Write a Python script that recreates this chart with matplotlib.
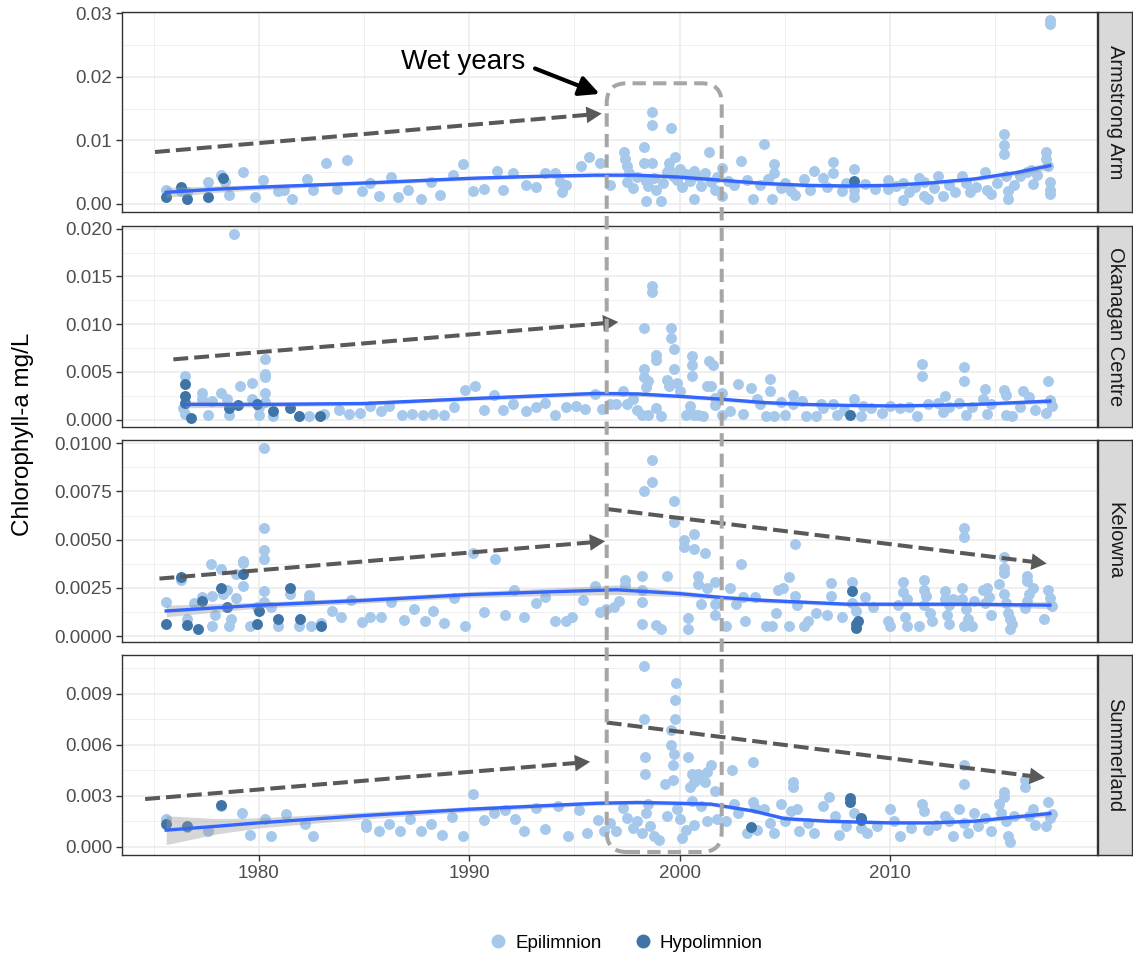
import numpy as np
import matplotlib
matplotlib.use("Agg")
import matplotlib.pyplot as plt
from matplotlib.lines import Line2D
from matplotlib.patches import FancyBboxPatch
from matplotlib.ticker import FixedLocator

plt.rcParams['font.family'] = ['Liberation Sans', 'DejaVu Sans']

# ---------------- data (chlorophyll-a in ug/L, plotted as mg/L) ----------------
sites = ["Armstrong Arm", "Okanagan Centre", "Kelowna", "Summerland"]

arm_epi_year = [1975.6, 1976.3, 1976.6, 1977.6, 1978.2, 1978.4, 1978.6, 1979.25, 1979.8, 1980.2,
                1980.9, 1981.2, 1981.6, 1982.3, 1982.6, 1983.2, 1983.7, 1984.2, 1984.9, 1985.3,
                1985.7, 1986.3, 1986.6, 1987.1, 1987.7, 1988.2, 1988.6, 1989.25, 1989.7, 1990.2,
                1990.7, 1991.3, 1991.6, 1992.1, 1992.7, 1993.2, 1993.6, 1994.1, 1994.3, 1994.6,
                1994.4, 1995.3, 1995.7, 1996.2, 1996.7, 1997.35, 1997.4, 1997.5, 1997.6, 1997.5,
                1997.8, 1998.0, 1998.3, 1998.3, 1998.4, 1998.4, 1998.5, 1998.7, 1998.7, 1998.7,
                1998.8, 1998.9, 1999.1, 1999.2, 1999.4, 1999.5, 1999.5, 1999.6, 1999.7, 1999.8,
                1999.9, 2000.0, 2000.1, 2000.3, 2000.5, 2000.7, 2000.7, 2000.9, 2001.0, 2001.2,
                2001.4, 2001.5, 2001.7, 2001.8, 2002.0, 2002.0, 2002.3, 2002.6, 2002.9, 2003.2,
                2003.5, 2003.8, 2004.0, 2004.2, 2004.4, 2004.5, 2004.5, 2004.8, 2005.0, 2005.3,
                2005.5, 2005.9, 2006.2, 2006.4, 2006.8, 2007.0, 2007.3, 2007.3, 2007.7, 2007.9,
                2008.3, 2008.3, 2008.3, 2008.8, 2009.3, 2009.9, 2009.9, 2010.3, 2010.6, 2010.6,
                2010.9, 2011.2, 2011.4, 2011.6, 2011.6, 2011.8, 2012.1, 2012.3, 2012.5, 2012.8,
                2013.1, 2013.4, 2013.6, 2013.8, 2014.1, 2014.5, 2014.6, 2014.8, 2015.1, 2015.4,
                2015.4, 2015.4, 2015.5, 2015.6, 2015.6, 2015.9, 2016.2, 2016.5, 2016.7, 2016.8,
                2017.0, 2017.4, 2017.4, 2017.5, 2017.6, 2017.6, 2017.6, 2017.6, 2017.6]
arm_epi_chl = [2.1, 2.0, 1.8, 3.5, 4.55, 3.5, 1.4, 5.0, 1.05, 3.7,
               2.0, 2.2, 0.8, 3.9, 2.1, 6.4, 2.4, 6.95, 2.0, 3.3,
               1.2, 4.2, 1.0, 2.2, 0.8, 3.4, 1.35, 4.45, 6.3, 2.0,
               2.4, 5.2, 2.2, 4.8, 3.0, 2.6, 4.9, 4.9, 3.4, 2.9,
               1.9, 6.0, 7.4, 6.4, 3.0, 8.1, 7.1, 6.0, 4.8, 3.5,
               2.5, 4.2, 8.9, 6.4, 3.6, 0.5, 2.8, 14.5, 12.4, 6.4,
               4.0, 2.2, 0.5, 3.3, 5.0, 6.4, 5.4, 11.9, 4.3, 7.4,
               3.8, 5.5, 2.6, 4.7, 3.6, 0.8, 5.2, 4.4, 2.8, 4.8,
               8.1, 3.5, 2.1, 4.2, 5.7, 1.2, 3.6, 2.9, 6.8, 3.7,
               0.7, 2.9, 9.4, 3.9, 0.7, 6.3, 4.9, 2.5, 3.3, 2.0,
               1.3, 3.9, 2.2, 5.2, 4.1, 2.7, 6.6, 4.8, 2.0, 3.3,
               5.4, 2.1, 1.05, 3.1, 2.4, 3.8, 2.3, 2.8, 3.3, 0.6,
               1.8, 2.7, 4.0, 3.5, 1.2, 0.7, 2.5, 4.4, 1.2, 3.0,
               1.9, 4.4, 3.3, 1.8, 2.7, 5.0, 2.2, 1.6, 3.3, 11.0,
               9.2, 7.9, 4.4, 0.7, 2.0, 3.0, 4.4, 5.0, 5.3, 3.1,
               4.6, 8.1, 7.0, 5.9, 29.0, 28.3, 3.4, 2.2, 1.5]
arm_hypo_year = [1975.6, 1976.3, 1976.6, 1977.6, 1978.3, 2008.3]
arm_hypo_chl = [1.05, 2.6, 0.8, 1.05, 4.0, 3.6]

okc_epi_year = [1976.5, 1976.4, 1976.5, 1977.3, 1977.3, 1977.6, 1977.8, 1978.2, 1978.5, 1978.6,
                1978.8, 1979.1, 1979.7, 1979.7, 1980.0, 1980.0, 1980.3, 1980.3, 1980.3, 1980.3,
                1980.3, 1980.7, 1982.4, 1983.1, 1983.8, 1984.3, 1984.8, 1985.3, 1985.8, 1986.2,
                1986.8, 1987.3, 1987.8, 1988.3, 1988.8, 1989.3, 1989.8, 1990.3, 1990.7, 1991.2,
                1991.6, 1992.1, 1992.7, 1993.2, 1993.6, 1994.1, 1994.6, 1995.1, 1995.5, 1996.0,
                1996.3, 1996.7, 1997.0, 1997.3, 1997.5, 1997.8, 1998.0, 1998.2, 1998.3, 1998.3,
                1998.3, 1998.4, 1998.5, 1998.5, 1998.7, 1998.7, 1998.9, 1998.9, 1998.9, 1999.1,
                1999.4, 1999.5, 1999.6, 1999.6, 1999.75, 1999.75, 1999.9, 2000.0, 2000.3, 2000.5,
                2000.6, 2000.6, 2000.6, 2000.7, 2000.9, 2001.1, 2001.3, 2001.4, 2001.5, 2001.6,
                2001.7, 2001.7, 2002.0, 2002.0, 2002.4, 2002.8, 2003.0, 2003.4, 2003.7, 2003.8,
                2004.1, 2004.3, 2004.3, 2004.5, 2004.8, 2005.0, 2005.4, 2005.4, 2005.8, 2006.0,
                2006.5, 2006.7, 2006.8, 2007.3, 2007.5, 2007.8, 2008.3, 2008.6, 2008.7, 2009.1,
                2009.6, 2010.0, 2010.5, 2010.9, 2011.3, 2011.5, 2011.5, 2011.8, 2012.3, 2012.5,
                2012.6, 2012.8, 2013.3, 2013.5, 2013.5, 2013.6, 2013.9, 2014.4, 2014.5, 2014.6,
                2014.8, 2015.4, 2015.5, 2015.5, 2015.8, 2016.2, 2016.3, 2016.6, 2016.9, 2017.4,
                2017.5, 2017.6, 2017.7]
okc_epi_chl = [4.6, 1.2, 0.65, 2.8, 2.2, 0.5, 2.0, 2.8, 2.2, 0.5,
               19.4, 3.5, 3.8, 2.2, 1.3, 0.5, 6.4, 4.8, 4.5, 2.8,
               1.9, 0.4, 0.4, 0.55, 1.0, 0.55, 0.7, 1.4, 0.9, 1.4,
               0.5, 0.6, 0.5, 0.6, 0.5, 1.3, 3.1, 3.5, 1.0, 2.6,
               1.0, 1.6, 0.9, 1.3, 1.8, 0.5, 1.3, 1.4, 1.1, 2.7,
               1.1, 1.6, 1.6, 3.0, 1.6, 2.2, 1.0, 0.5, 9.6, 5.3,
               4.5, 3.4, 4.1, 0.5, 14.0, 13.4, 6.8, 6.3, 1.2, 0.4,
               4.2, 3.5, 9.6, 8.6, 7.4, 5.3, 3.8, 3.0, 0.5, 1.4,
               6.7, 5.7, 4.6, 0.5, 0.5, 0.4, 3.5, 6.2, 3.5, 5.7,
               2.3, 1.5, 2.8, 0.5, 0.9, 3.7, 0.6, 3.3, 2.2, 1.6,
               0.4, 4.3, 3.0, 0.4, 1.9, 0.5, 2.6, 1.6, 2.0, 0.4,
               0.4, 1.6, 1.2, 1.6, 0.5, 1.0, 2.2, 0.4, 1.4, 1.2,
               0.7, 1.4, 1.2, 1.3, 0.4, 5.85, 4.6, 1.6, 1.7, 0.8,
               2.5, 1.3, 1.8, 5.5, 4.1, 0.5, 1.3, 2.2, 3.2, 0.6,
               1.6, 3.1, 2.6, 0.5, 0.4, 1.3, 3.0, 2.4, 1.0, 0.7,
               4.1, 2.1, 1.4]
okc_hypo_year = [1976.5, 1976.5, 1976.5, 1976.8, 1978.6, 1979.0, 1979.9, 1980.7, 1981.5, 1981.9,
                 1982.9, 2008.1]
okc_hypo_chl = [3.7, 2.5, 1.7, 0.2, 1.2, 1.5, 1.6, 0.9, 1.2, 0.4,
                0.4, 0.5]

kel_epi_year = [1975.6, 1976.3, 1976.6, 1976.9, 1977.3, 1977.75, 1977.8, 1977.9, 1977.8, 1978.2,
                1978.3, 1978.5, 1978.9, 1978.9, 1978.7, 1978.6, 1979.25, 1979.25, 1979.25, 1979.6,
                1979.9, 1980.25, 1980.25, 1980.25, 1980.25, 1980.25, 1980.25, 1980.6, 1980.9, 1981.5,
                1981.9, 1982.4, 1982.4, 1982.5, 1982.95, 1983.5, 1983.9, 1984.4, 1984.9, 1985.3,
                1985.8, 1986.3, 1986.9, 1987.4, 1987.9, 1988.3, 1988.8, 1989.3, 1989.8, 1990.2,
                1990.7, 1991.25, 1991.7, 1992.15, 1992.6, 1993.2, 1993.6, 1994.1, 1994.6, 1994.9,
                1995.4, 1996.0, 1996.2, 1996.5, 1996.9, 1997.1, 1997.4, 1997.4, 1998.2, 1998.2,
                1998.2, 1998.2, 1998.3, 1998.7, 1998.7, 1998.9, 1999.1, 1999.4, 1999.75, 1999.75,
                2000.2, 2000.2, 2000.4, 2000.4, 2000.7, 2000.7, 2000.9, 2000.9, 2001.0, 2001.2,
                2001.3, 2001.7, 2001.7, 2001.7, 2002.2, 2002.4, 2002.7, 2002.9, 2003.0, 2003.1,
                2003.6, 2004.1, 2004.4, 2004.6, 2004.7, 2004.9, 2005.2, 2005.2, 2005.5, 2005.5,
                2005.6, 2005.9, 2006.1, 2006.5, 2007.0, 2007.2, 2007.2, 2007.7, 2008.2, 2008.2,
                2008.4, 2008.8, 2009.2, 2009.9, 2010.0, 2010.6, 2010.6, 2010.4, 2010.7, 2010.8,
                2010.8, 2011.4, 2011.6, 2011.6, 2011.7, 2011.6, 2011.9, 2012.0, 2012.6, 2012.6,
                2012.8, 2012.7, 2012.8, 2013.0, 2013.4, 2013.5, 2013.5, 2013.4, 2013.6, 2013.7,
                2013.5, 2013.9, 2014.0, 2014.4, 2014.6, 2014.7, 2014.8, 2014.5, 2015.2, 2015.4,
                2015.4, 2015.4, 2015.4, 2015.5, 2015.6, 2015.7, 2015.7, 2015.8, 2016.5, 2016.5,
                2016.6, 2016.8, 2016.5, 2016.4, 2017.3, 2017.5, 2017.6, 2017.7]
kel_epi_chl = [1.75, 2.9, 0.9, 1.7, 2.0, 3.75, 2.1, 1.1, 0.5, 3.5,
               2.2, 2.4, 3.2, 1.95, 0.9, 0.5, 3.9, 3.8, 2.6, 0.5,
               1.5, 9.74, 5.6, 4.45, 4.0, 2.36, 1.75, 1.5, 0.5, 2.2,
               0.5, 2.15, 1.9, 0.5, 0.7, 1.3, 1.0, 1.85, 0.75, 1.0,
               1.0, 1.75, 0.85, 1.4, 0.8, 1.3, 0.65, 1.95, 0.5, 4.3,
               1.25, 4.0, 1.1, 2.4, 1.0, 1.7, 2.0, 0.8, 0.8, 1.0,
               1.85, 2.6, 1.25, 1.4, 1.5, 1.8, 2.9, 2.65, 3.1, 2.4,
               1.75, 0.6, 7.5, 9.15, 8.0, 0.55, 0.35, 3.1, 7.0, 5.9,
               5.0, 4.6, 0.95, 0.35, 5.3, 4.5, 3.1, 2.7, 1.65, 4.3,
               2.5, 2.8, 1.65, 1.1, 0.5, 2.5, 1.65, 3.75, 2.05, 0.8,
               2.05, 0.5, 0.5, 1.2, 2.4, 2.5, 3.05, 0.5, 4.75, 2.1,
               1.6, 0.5, 0.8, 1.2, 1.1, 2.75, 2.1, 1.0, 2.8, 1.7,
               1.3, 2.0, 1.5, 0.8, 0.5, 2.8, 2.3, 1.6, 1.0, 1.9,
               0.5, 0.5, 2.9, 2.4, 2.1, 1.6, 1.2, 0.8, 2.35, 1.9,
               1.6, 1.1, 0.6, 1.9, 2.5, 5.6, 5.15, 1.9, 1.4, 0.9,
               0.5, 0.5, 1.8, 2.4, 2.5, 2.0, 1.1, 1.7, 2.7, 4.1,
               3.55, 3.25, 2.2, 1.7, 1.2, 0.9, 0.35, 0.6, 3.1, 2.85,
               2.2, 2.5, 1.8, 1.45, 0.9, 2.4, 1.95, 1.55]
kel_hypo_year = [1975.6, 1976.3, 1976.6, 1977.1, 1977.3, 1978.2, 1978.5, 1979.25, 1979.9, 1980.0,
                 1980.9, 1981.5, 1981.95, 1982.95, 2008.2, 2008.4, 2008.4, 2008.5]
kel_hypo_chl = [0.6, 3.05, 0.55, 0.35, 1.8, 2.5, 1.5, 3.2, 0.6, 1.3,
                0.9, 2.5, 0.9, 0.5, 2.35, 0.6, 0.4, 0.8]

sum_epi_year = [1975.6, 1976.6, 1977.6, 1978.2, 1979.2, 1979.6, 1980.3, 1980.6, 1981.3, 1982.2,
                1982.6, 1985.1, 1985.1, 1985.7, 1986.2, 1986.7, 1987.2, 1987.7, 1988.2, 1988.7,
                1989.2, 1989.7, 1990.2, 1990.7, 1991.2, 1991.7, 1992.2, 1992.6, 1993.2, 1993.6,
                1994.2, 1994.7, 1995.2, 1995.6, 1996.1, 1996.4, 1996.7, 1997.0, 1997.3, 1997.5,
                1997.8, 1998.0, 1998.2, 1998.3, 1998.3, 1998.35, 1998.35, 1998.4, 1998.5, 1998.6,
                1998.8, 1999.0, 1999.3, 1999.4, 1999.6, 1999.6, 1999.7, 1999.7, 1999.75, 1999.8,
                1999.85, 1999.8, 1999.9, 2000.0, 2000.1, 2000.3, 2000.4, 2000.5, 2000.6, 2000.6,
                2000.7, 2000.7, 2000.9, 2001.0, 2001.0, 2001.2, 2001.3, 2001.3, 2001.5, 2001.7,
                2001.8, 2002.2, 2002.5, 2002.6, 2002.8, 2003.2, 2003.5, 2003.5, 2003.6, 2003.7,
                2004.0, 2004.3, 2004.5, 2004.8, 2005.0, 2005.3, 2005.4, 2005.4, 2005.6, 2005.7,
                2006.1, 2006.4, 2006.8, 2007.1, 2007.4, 2007.6, 2007.9, 2008.3, 2008.6, 2008.9,
                2009.4, 2010.0, 2010.2, 2010.5, 2011.0, 2011.5, 2011.6, 2011.8, 2012.2, 2012.6,
                2012.8, 2013.0, 2013.3, 2013.5, 2013.5, 2013.5, 2013.7, 2014.0, 2014.2, 2014.5,
                2014.8, 2015.2, 2015.3, 2015.4, 2015.4, 2015.5, 2015.6, 2015.7, 2015.9, 2016.4,
                2016.4, 2016.6, 2016.8, 2016.9, 2017.4, 2017.5, 2017.6, 2017.7]
sum_epi_chl = [1.65, 1.15, 0.95, 2.4, 2.0, 0.7, 1.65, 0.6, 1.9, 1.35,
               0.6, 1.15, 1.35, 0.95, 1.35, 0.9, 1.65, 0.9, 1.35, 0.7,
               1.75, 0.6, 3.1, 1.55, 2.0, 2.15, 1.65, 0.95, 2.3, 1.05,
               2.4, 0.6, 2.15, 0.8, 1.55, 0.9, 1.4, 0.9, 2.3, 1.7,
               1.1, 1.5, 0.8, 10.6, 7.5, 5.3, 4.3, 2.0, 2.5, 1.2,
               0.6, 0.4, 3.7, 1.8, 6.85, 6.0, 3.9, 4.8, 5.45, 8.6,
               9.6, 7.5, 2.2, 1.6, 0.5, 1.0, 5.3, 3.5, 4.3, 2.7,
               3.8, 1.3, 4.3, 4.0, 2.4, 3.8, 4.4, 1.5, 4.8, 3.3,
               1.6, 1.5, 4.5, 2.5, 2.0, 0.8, 5.0, 2.6, 2.3, 1.0,
               2.2, 1.4, 0.8, 2.5, 1.5, 2.1, 3.8, 3.5, 2.2, 0.9,
               1.4, 0.8, 2.4, 2.9, 1.8, 0.7, 1.2, 2.0, 1.1, 0.8,
               1.2, 2.2, 1.5, 0.6, 1.1, 2.5, 2.1, 1.0, 1.3, 1.8,
               1.5, 0.6, 2.2, 4.8, 3.7, 1.4, 0.8, 2.0, 1.2, 1.7,
               0.9, 2.5, 2.0, 3.2, 2.9, 1.5, 0.6, 0.3, 1.8, 3.9,
               3.5, 1.8, 2.2, 1.3, 1.2, 2.6, 1.7, 1.9]
sum_hypo_year = [1975.6, 1976.6, 1978.2, 2003.4, 2008.1, 2008.1, 2008.6, 2008.6]
sum_hypo_chl = [1.35, 1.2, 2.45, 1.15, 2.85, 2.6, 1.7, 1.55]

# loess smooth (fit and half width of the 95% band)
arm_sm_year = [1975.6, 1978, 1980, 1983, 1986, 1990, 1993, 1996, 1998, 2000, 2002, 2004, 2006,
               2008, 2010, 2012, 2014, 2016, 2017.6]
arm_sm_fit = [1.8, 2.3, 2.6, 3.0, 3.4, 4.0, 4.3, 4.5, 4.5, 4.2, 3.7, 3.2, 2.9, 2.8, 2.9, 3.3,
              3.9, 4.9, 6.0]
arm_sm_se = [0.8, 0.5, 0.4, 0.3, 0.3, 0.3, 0.3, 0.3, 0.3, 0.3, 0.3, 0.3, 0.3, 0.3, 0.3, 0.3,
             0.35, 0.4, 0.6]

okc_sm_year = [1976.5, 1980, 1985, 1990, 1996, 1998, 2000, 2002, 2004, 2006, 2008, 2010, 2012,
               2014, 2017.6]
okc_sm_fit = [1.6, 1.6, 1.7, 2.2, 2.75, 2.7, 2.45, 2.15, 1.8, 1.6, 1.5, 1.45, 1.5, 1.6, 1.95]
okc_sm_se = [0.35, 0.25, 0.2, 0.2, 0.25, 0.25, 0.2, 0.2, 0.2, 0.15, 0.15, 0.15, 0.15, 0.15, 0.25]

kel_sm_year = [1975.6, 1980, 1985, 1990, 1994, 1997, 2000, 2002, 2004, 2006, 2008, 2010, 2012,
               2014, 2016, 2017.6]
kel_sm_fit = [1.3, 1.6, 1.85, 2.15, 2.3, 2.4, 2.2, 2.0, 1.85, 1.75, 1.65, 1.65, 1.65, 1.65,
              1.62, 1.6]
kel_sm_se = [0.3, 0.15, 0.15, 0.15, 0.2, 0.25, 0.15, 0.12, 0.12, 0.1, 0.1, 0.1, 0.1, 0.1,
             0.12, 0.2]

sum_sm_year = [1975.6, 1978, 1980, 1985, 1990, 1996, 1998, 2000, 2001.5, 2003.5, 2005, 2007,
               2008.5, 2010, 2012, 2014, 2016, 2017.6]
sum_sm_fit = [0.97, 1.2, 1.4, 1.83, 2.2, 2.55, 2.6, 2.55, 2.5, 2.1, 1.65, 1.5, 1.45, 1.4, 1.4,
              1.5, 1.75, 1.95]
sum_sm_se = [0.85, 0.45, 0.3, 0.2, 0.15, 0.12, 0.12, 0.12, 0.12, 0.1, 0.1, 0.1, 0.1, 0.08,
             0.08, 0.1, 0.12, 0.18]

# trend arrows (year, mg/L) -> (year, mg/L)
trend_arrows = [
    [((1975.07, 0.00815), (1996.30, 0.0142))],
    [((1975.94, 0.00632), (1997.09, 0.01023))],
    [((1975.28, 0.00298), (1996.46, 0.00492)), ((1996.54, 0.00659), (2017.45, 0.00376))],
    [((1974.60, 0.00280), (1995.75, 0.00499)), ((1996.54, 0.00730), (2017.37, 0.00405))],
]

# ---------------- styling / layout ----------------
W, H = 1133, 955
light = '#A5C8EB'
dark = '#3E74A6'
grid_c = '#EBEBEB'
edge_c = '#333333'

panel_px = [(12, 212), (226, 427), (440, 642), (655, 855)]
ylims = [(-0.0013, 0.0302), (-0.00076, 0.02028), (-0.00031, 0.01017), (-0.00049, 0.01127)]
yticks = [[0, 0.01, 0.02, 0.03], [0, 0.005, 0.01, 0.015, 0.02],
          [0, 0.0025, 0.005, 0.0075, 0.01], [0, 0.003, 0.006, 0.009]]
ytlabels = [['0.00', '0.01', '0.02', '0.03'], ['0.000', '0.005', '0.010', '0.015', '0.020'],
            ['0.0000', '0.0025', '0.0050', '0.0075', '0.0100'], ['0.000', '0.003', '0.006', '0.009']]

data = [
    (arm_epi_year, arm_epi_chl, arm_hypo_year, arm_hypo_chl, arm_sm_year, arm_sm_fit, arm_sm_se),
    (okc_epi_year, okc_epi_chl, okc_hypo_year, okc_hypo_chl, okc_sm_year, okc_sm_fit, okc_sm_se),
    (kel_epi_year, kel_epi_chl, kel_hypo_year, kel_hypo_chl, kel_sm_year, kel_sm_fit, kel_sm_se),
    (sum_epi_year, sum_epi_chl, sum_hypo_year, sum_hypo_chl, sum_sm_year, sum_sm_fit, sum_sm_se),
]


def frac(x0, y0, x1, y1):
    return [x0 / W, 1 - y1 / H, (x1 - x0) / W, (y1 - y0) / H]


def dashed_arrow(ax, p0, p1):
    (x0, y0), (x1, y1) = p0, p1
    c = '#595959'
    ax.plot([x0, x0 + 0.97 * (x1 - x0)], [y0, y0 + 0.97 * (y1 - y0)], color=c, lw=2.9,
            ls=(0, (3.7, 1.5)), dash_capstyle='butt', zorder=6)
    ax.annotate('', xy=(x1, y1), xytext=(x0 + 0.9 * (x1 - x0), y0 + 0.9 * (y1 - y0)),
                arrowprops=dict(arrowstyle='-|>,head_length=0.55,head_width=0.3', color=c,
                                lw=0, mutation_scale=20, shrinkA=0, shrinkB=0), zorder=6)


fig = plt.figure(figsize=(W / 100, H / 100), dpi=100)

axes = []
for i, name in enumerate(sites):
    top, bot = panel_px[i]
    ey, ev, hy, hv, sy, sf, ss = data[i]
    ax = fig.add_axes(frac(122, top, 1097, bot))
    axes.append(ax)
    ax.set_xlim(1973.5, 2019.84)
    ax.set_ylim(*ylims[i])

    ax.scatter(ey, np.array(ev) / 1000, s=62, color=light, lw=0, zorder=2)
    ax.scatter(hy, np.array(hv) / 1000, s=62, color=dark, lw=0, zorder=2)
    sf = np.array(sf)
    ss = np.array(ss)
    ax.fill_between(sy, (sf - ss) / 1000, (sf + ss) / 1000, color='#999999', alpha=0.4,
                    lw=0, zorder=3)
    ax.plot(sy, sf / 1000, color='#3366FF', lw=2.4, zorder=4)

    for p0, p1 in trend_arrows[i]:
        dashed_arrow(ax, p0, p1)

    ax.set_axisbelow(True)
    ax.xaxis.set_major_locator(FixedLocator([1980, 1990, 2000, 2010]))
    ax.xaxis.set_minor_locator(FixedLocator([1975, 1985, 1995, 2005, 2015]))
    ax.set_yticks(yticks[i])
    ax.set_yticklabels(ytlabels[i])
    step = yticks[i][1] - yticks[i][0]
    ax.yaxis.set_minor_locator(FixedLocator([t + step / 2 for t in yticks[i]]))
    ax.grid(which='major', color=grid_c, lw=1.1)
    ax.grid(which='minor', color=grid_c, lw=0.55)
    ax.tick_params(which='minor', length=0)
    ax.tick_params(which='major', length=4, width=1, color=edge_c, labelsize=13.5,
                   labelcolor='#4D4D4D', pad=3)
    for sp in ax.spines.values():
        sp.set_color(edge_c)
        sp.set_linewidth(1)
    if i < 3:
        ax.tick_params(axis='x', which='both', bottom=False, labelbottom=False)

    sax = fig.add_axes(frac(1098, top, 1132, bot))
    sax.set_facecolor('#D9D9D9')
    sax.set_xticks([])
    sax.set_yticks([])
    for sp in sax.spines.values():
        sp.set_color(edge_c)
        sp.set_linewidth(1)
    sax.text(0.5, 0.5, name, rotation=-90, ha='center', va='center', fontsize=14.5,
             color='#1A1A1A', transform=sax.transAxes)

# "Wet years" note
ax1 = axes[0]
ax1.text(1989.72, 0.02237, 'Wet years', fontsize=20, ha='center', va='center', zorder=7)
ax1.annotate('', xy=(1996.2, 0.0173), xytext=(1993.13, 0.0213),
             arrowprops=dict(arrowstyle='-|>,head_length=0.6,head_width=0.3', color='black',
                             lw=3, mutation_scale=20, shrinkA=0, shrinkB=0), zorder=7)

# dashed box around the wet years, spanning all panels
box = FancyBboxPatch((606.7 / 100, (H - 852) / 100), 1.15, (852 - 83.3) / 100,
                     boxstyle='round,pad=0,rounding_size=0.2', transform=fig.dpi_scale_trans,
                     fill=False, edgecolor='#A6A6A6', lw=2.9, ls=(0, (3.3, 1.8)), zorder=10)
fig.add_artist(box)

fig.text(23 / W, 1 - 434 / H, 'Chlorophyll-a mg/L', rotation=90, ha='center', va='center',
         fontsize=17.5)

handles = [Line2D([], [], marker='o', ls='', color=light, markersize=9),
           Line2D([], [], marker='o', ls='', color=dark, markersize=9)]
fig.legend(handles, ['Epilimnion', 'Hypolimnion'], loc='center',
           bbox_to_anchor=(625 / W, 1 - 943 / H), ncol=2, frameon=False, fontsize=13.5,
           handletextpad=0.3, columnspacing=1.6, handlelength=1.2)

fig.savefig('out.png', dpi=100)
